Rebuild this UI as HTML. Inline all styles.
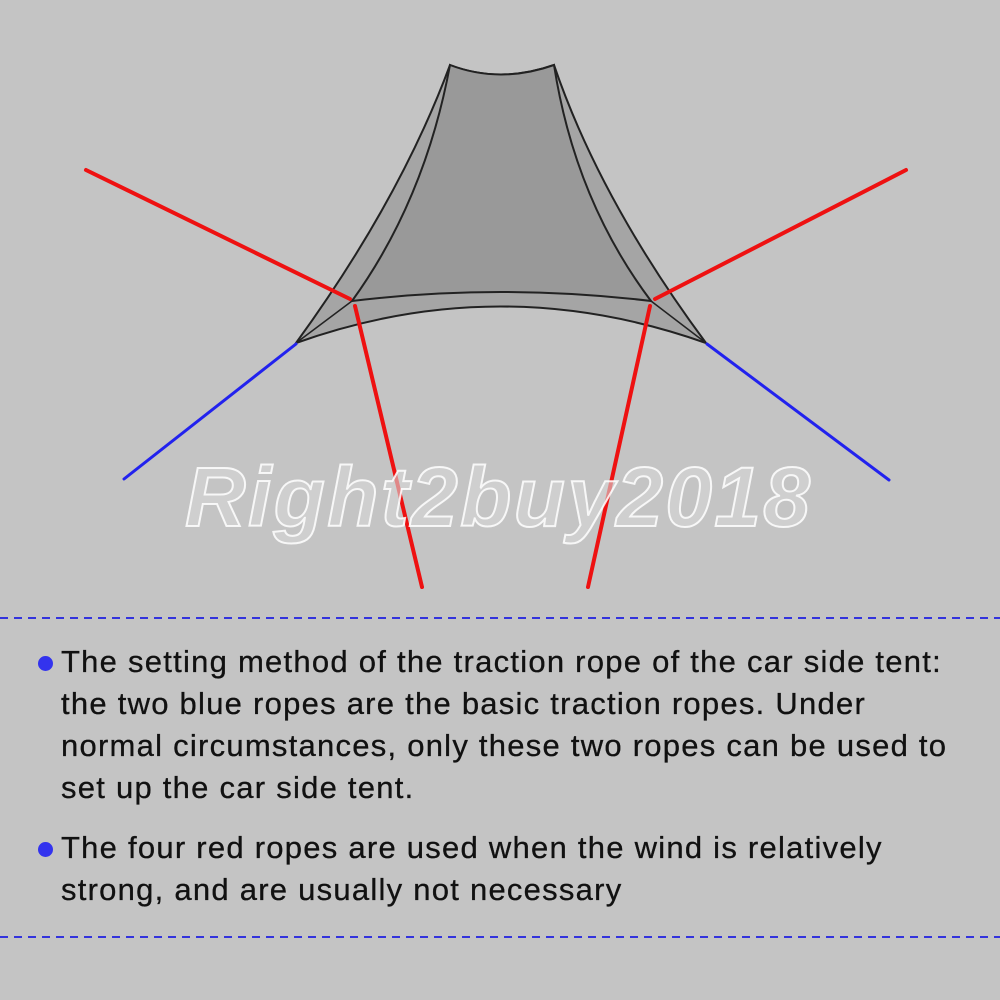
<!DOCTYPE html>
<html><head><style>
body{margin:0;width:1000px;height:1000px;background:#c4c4c4;overflow:hidden;position:relative;font-family:"Liberation Sans",Arial,sans-serif}
svg{position:absolute;left:0;top:0}
.t{position:absolute;left:61px;font-size:31px;color:#111;line-height:42px;letter-spacing:1.25px;-webkit-text-stroke:0.3px #111;white-space:nowrap}
.b{position:absolute;left:38px;width:15px;height:15px;border-radius:50%;background:#3333ee}
</style></head><body>
<svg width="1000" height="1000">
<path d="M450,65 Q500,84 554,65 Q600,200 706,343 Q500,270 296,343 Q400,200 450,65Z" fill="#a5a5a5" stroke="#222" stroke-width="2"/>
<path d="M450,65 Q500,84 554,65 Q575,200 651,301 Q500,283 352,301 Q425,200 450,65Z" fill="#999" stroke="#222" stroke-width="2"/>
<path d="M296,343 L352,301 M706,343 L651,301" stroke="#222" stroke-width="1.5"/>
<g stroke="#ee1111" stroke-width="4" stroke-linecap="round">
<line x1="86" y1="170" x2="350" y2="299"/>
<line x1="355" y1="306" x2="422" y2="587"/>
<line x1="906" y1="170" x2="655" y2="299"/>
<line x1="650" y1="306" x2="588" y2="587"/>
</g>
<g stroke="#2222ee" stroke-width="3" stroke-linecap="round">
<line x1="296" y1="344" x2="124" y2="479"/>
<line x1="707" y1="344" x2="889" y2="480"/>
</g>
<text x="185" y="526" font-family="Liberation Sans" font-style="italic" font-weight="bold" font-size="84" fill="rgba(215,215,215,0.6)" stroke="rgba(255,255,255,0.85)" stroke-width="2" textLength="625">Right2buy2018</text>
<g stroke="#3333dd" stroke-width="2" stroke-dasharray="8,6">
<line x1="0" y1="618" x2="1000" y2="618"/>
<line x1="0" y1="937" x2="1000" y2="937"/>
</g>
</svg>
<div class="b" style="top:656px"></div>
<div class="t" style="top:641px">The setting method of the traction rope of the car side tent:<br>the two blue ropes are the basic traction ropes. Under<br>normal circumstances, only these two ropes can be used to<br>set up the car side tent.</div>
<div class="b" style="top:842px"></div>
<div class="t" style="top:827px">The four red ropes are used when the wind is relatively<br>strong, and are usually not necessary</div>
</body></html>
